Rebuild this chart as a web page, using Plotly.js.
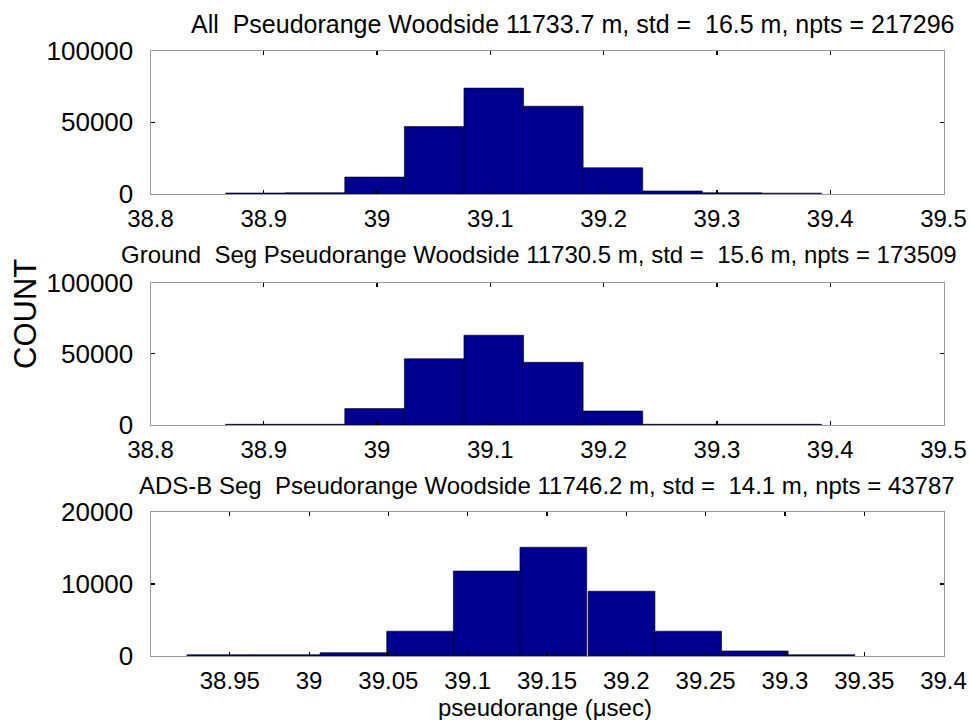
<!DOCTYPE html>
<html>
<head>
<meta charset="utf-8">
<script src="https://cdn.plot.ly/plotly-3.0.1.min.js"></script>
<style>html,body{margin:0;padding:0;background:#fff;}#chart{width:970px;height:720px;}</style>
</head>
<body>
<div id="chart"></div>
<script>
// ---- data ----
const binCentersGround = [38.8926, 38.9452, 38.9978, 39.0504, 39.1030, 39.1556, 39.2082, 39.2608, 39.3134, 39.3660];
const binWidthGround = 0.0526;
const countsAll = [700, 900, 11800, 47000, 73800, 61200, 18300, 2100, 900, 600];
const countsGround = [500, 500, 11500, 46500, 63000, 44000, 9800, 500, 500, 500];
const binCentersAdsb = [38.944, 38.986, 39.028, 39.070, 39.112, 39.154, 39.197, 39.239, 39.281, 39.323];
const binWidthAdsb = 0.0421;
const countsAdsb = [180, 180, 460, 3450, 11800, 15100, 9000, 3450, 700, 180];

const ticksX12 = [38.8, 38.9, 39, 39.1, 39.2, 39.3, 39.4, 39.5];
const tickTextX12 = ['38.8', '38.9', '39', '39.1', '39.2', '39.3', '39.4', '39.5'];
const ticksX3 = [38.95, 39, 39.05, 39.1, 39.15, 39.2, 39.25, 39.3, 39.35, 39.4];
const tickTextX3 = ['38.95', '39', '39.05', '39.1', '39.15', '39.2', '39.25', '39.3', '39.35', '39.4'];
const ticksY12 = [0, 50000, 100000];
const tickTextY12 = ['0', '50000', '100000'];
const ticksY3 = [0, 10000, 20000];
const tickTextY3 = ['0', '10000', '20000'];

const titles = [
  'All  Pseudorange Woodside 11733.7 m, std =  16.5 m, npts = 217296',
  'Ground  Seg Pseudorange Woodside 11730.5 m, std =  15.6 m, npts = 173509',
  'ADS-B Seg  Pseudorange Woodside 11746.2 m, std =  14.1 m, npts = 43787'
];
const yLabel = 'COUNT';
const xLabel = 'pseudorange (\u03bcsec)';

// ---- layout ----
const W = 970, H = 720;
const FONT = 'Liberation Sans, Arial, Helvetica, sans-serif';
const barColor = 'rgb(0,0,143)';

function bar(x, y, w, xa, ya) {
  return {type: 'bar', x: x, y: y, width: w, xaxis: xa, yaxis: ya,
    marker: {color: barColor, line: {color: '#000', width: 0.6}},
    hoverinfo: 'x+y', showlegend: false};
}

const data = [
  bar(binCentersGround, countsAll, binWidthGround, 'x', 'y'),
  bar(binCentersGround, countsGround, binWidthGround, 'x2', 'y2'),
  bar(binCentersAdsb, countsAdsb, binWidthAdsb, 'x3', 'y3')
];

function px(v) { return v / W; }
function py(v) { return 1 - v / H; }

const xDom = [px(150.5), px(943.5)];
function xax(range, tv, tt, anchor) {
  return {domain: xDom, range: range, tickvals: tv, ticktext: tt, anchor: anchor,
    showline: true, linecolor: '#9a9a9a', linewidth: 1, mirror: 'ticks',
    ticks: 'inside', ticklen: 4, tickcolor: '#000', tickwidth: 1.2,
    showgrid: false, zeroline: false,
    tickfont: {family: FONT, size: 24, color: '#000'}, ticklabelstandoff: 3};
}
function yax(range, dom, tv, tt, anchor) {
  return {domain: dom, range: range, tickvals: tv, ticktext: tt, anchor: anchor,
    showline: true, linecolor: '#9a9a9a', linewidth: 1, mirror: 'ticks',
    ticks: 'inside', ticklen: 4, tickcolor: '#000', tickwidth: 1.2,
    showgrid: false, zeroline: false,
    tickfont: {family: FONT, size: 26, color: '#000'}, ticklabelstandoff: 11};
}

function ann(text, xPx, yPx, size, extra) {
  return Object.assign({text: text, xref: 'paper', yref: 'paper', x: px(xPx), y: py(yPx),
    xanchor: 'center', yanchor: 'middle', showarrow: false,
    font: {family: FONT, size: size, color: '#000'}}, extra || {});
}

const layout = {
  width: W, height: H,
  margin: {l: 0, r: 0, t: 0, b: 0},
  paper_bgcolor: '#fff', plot_bgcolor: '#fff',
  bargap: 0,
  xaxis: xax([38.8, 39.5], ticksX12, tickTextX12, 'y'),
  yaxis: yax([0, 100000], [py(194), py(50.5)], ticksY12, tickTextY12, 'x'),
  xaxis2: xax([38.8, 39.5], ticksX12, tickTextX12, 'y2'),
  yaxis2: yax([0, 100000], [py(425), py(282.5)], ticksY12, tickTextY12, 'x2'),
  xaxis3: xax([38.9, 39.4], ticksX3, tickTextX3, 'y3'),
  yaxis3: yax([0, 20000], [py(656), py(512)], ticksY3, tickTextY3, 'x3'),
  annotations: [
    ann(titles[0], 572.5, 24, 25),
    ann(titles[1], 538.5, 254, 24),
    ann(titles[2], 546.5, 485, 24),
    ann(yLabel, 25, 314, 31, {textangle: -90}),
    ann(xLabel, 545, 707, 24)
  ]
};

Plotly.newPlot('chart', data, layout, {staticPlot: true, displayModeBar: false});
</script>
</body>
</html>
